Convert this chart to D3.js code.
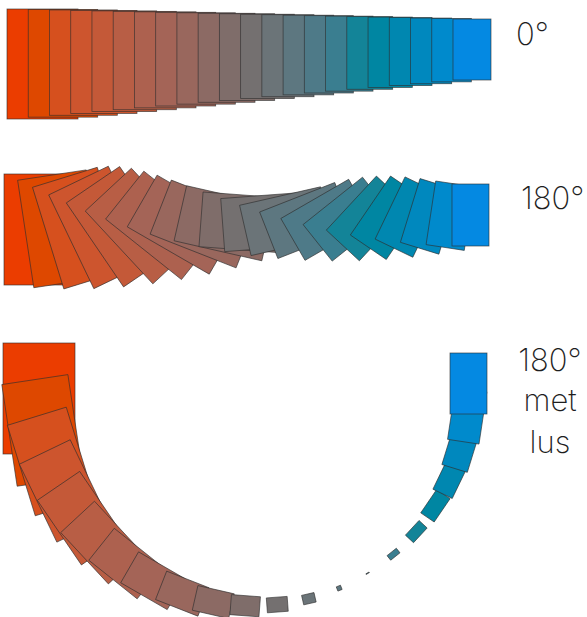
<!DOCTYPE html>
<html>
<head>
<meta charset="utf-8">
<script src="https://cdn.jsdelivr.net/npm/d3@7"></script>
<style>
  body { margin: 0; background: #fff; }
  .blend-label { font-family: Inter, Lato, 'Noto Sans', sans-serif; font-weight: 200; font-size: 31px; fill: #1e1e1e; }
  .step { stroke: #2e2e2e; stroke-width: 0.8; stroke-opacity: 0.75; }
</style>
</head>
<body>
<div class="chart"></div>
<script>
const svgWidth = 587;
const svgHeight = 617;

// number of objects in each blend (start + 20 steps + end)
const stepCount = 22;

// fill of every step, read from the 0 degree row, start (orange) to end (blue)
const stepColors = [
  '#eb3d00', '#de4800', '#d6501e', '#cd552e', '#c45938', '#b85e45',
  '#ad614f', '#a46457', '#99675d', '#8c6a64', '#7f6d6a', '#747070',
  '#6b7478', '#5d7780', '#4e7a88', '#3a7e90', '#138498', '#0086a2',
  '#0087b0', '#0088be', '#008acc', '#0489e2'
];

const blendAngles = [0, 180, 180];
const blendLoop = [false, false, true];
const blendLabels = [['0°'], ['180°'], ['180°', 'met', 'lus']];

// start and end object of every row: [x, y, width, height]
const rowShapes = [
  { start: [7, 9, 71, 110], end: [453, 19, 38, 61] },
  { start: [4, 174, 71, 111], end: [452, 184, 37, 62] },
  { start: [3, 343, 72, 111], end: [450, 353, 37, 61] }
];

const labelPos = [
  { x: 516, y: [45], anchor: 'start' },
  { x: 521, y: [209], anchor: 'start' },
  { x: 550, y: [371, 411, 453], anchor: 'middle' }
];

const svg = d3
  .select('.chart')
  .append('svg')
  .attr('width', svgWidth)
  .attr('height', svgHeight);

const t = d3.scaleLinear().domain([0, stepCount - 1]).range([0, 1]);

function center(r) {
  return [r[0] + r[2] / 2, r[1] + r[3] / 2];
}

rowShapes.forEach(function(shape, row) {
  const angle = blendAngles[row];
  const loop = blendLoop[row];
  const c0 = center(shape.start);
  const c1 = center(shape.end);
  const cx = d3.scaleLinear().range([c0[0], c1[0]]);
  const cy = d3.scaleLinear().range([c0[1], c1[1]]);
  const rot = d3.scaleLinear().range([0, -angle]);
  // with a loop the far object is seen from the rotated frame, so its size counts negative
  const sign = loop ? -1 : 1;
  const w = d3.scaleLinear().range([shape.start[2], sign * shape.end[2]]);
  const h = d3.scaleLinear().range([shape.start[3], sign * shape.end[3]]);
  const pivot = [(c0[0] + c1[0]) / 2, (c0[1] + c1[1]) / 2];

  const group = svg.append('g').attr('class', 'blend');

  group.selectAll('g.step-g')
    .data(d3.range(stepCount))
    .enter()
    .append('g')
    .attr('class', 'step-g')
    .attr('transform', function(k) {
      const f = t(k);
      if (loop) {
        return `rotate(${rot(f)}, ${pivot[0]}, ${pivot[1]}) translate(${c0[0]}, ${c0[1]})`;
      }
      return `translate(${cx(f)}, ${cy(f)}) rotate(${rot(f)})`;
    })
    .append('rect')
    .attr('class', 'step')
    .attr('x', k => -Math.abs(w(t(k))) / 2)
    .attr('y', k => -Math.abs(h(t(k))) / 2)
    .attr('width', k => Math.abs(w(t(k))))
    .attr('height', k => Math.abs(h(t(k))))
    .attr('fill', k => stepColors[k]);

  const lp = labelPos[row];
  svg.append('g')
    .selectAll('text')
    .data(blendLabels[row])
    .enter()
    .append('text')
    .attr('class', 'blend-label')
    .attr('x', lp.x)
    .attr('y', (d, i) => lp.y[i])
    .attr('text-anchor', lp.anchor)
    .text(d => d);
});
</script>
</body>
</html>
